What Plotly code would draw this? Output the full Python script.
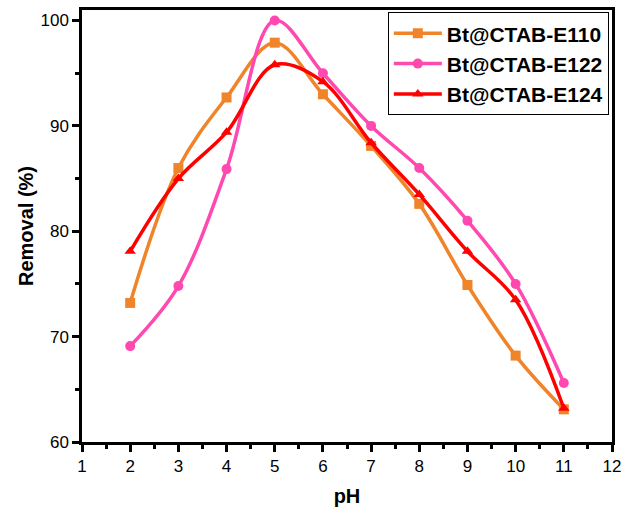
import plotly.graph_objects as go

ph = [2, 3, 4, 5, 6, 7, 8, 9, 10, 11]
e110 = [73.2, 86.0, 92.7, 97.9, 93.0, 88.1, 82.6, 74.9, 68.2, 63.1]
e122 = [69.1, 74.8, 85.9, 100.0, 95.0, 90.0, 86.0, 81.0, 75.0, 65.6]
e124 = [78.1, 85.0, 89.4, 95.8, 94.2, 88.4, 83.5, 78.1, 73.5, 63.2]

names = ["Bt@CTAB-E110", "Bt@CTAB-E122", "Bt@CTAB-E124"]
colors = ["#F0842A", "#FF48B0", "#FF0000"]
symbols = ["square", "circle", "triangle-up"]

fig = go.Figure()
for name, ys, c, s in zip(names, [e110, e122, e124], colors, symbols):
    fig.add_trace(go.Scatter(
        x=ph, y=ys, name=name, mode="lines+markers",
        line=dict(color=c, width=3.5, shape="spline", smoothing=1.0),
        marker=dict(symbol=s, size=10, color=c),
        cliponaxis=False,
    ))

font = "Liberation Sans, Arial, sans-serif"
fig.update_layout(
    width=622, height=509,
    margin=dict(l=82, r=10, t=10, b=67),
    plot_bgcolor="white", paper_bgcolor="white",
    font=dict(family=font, size=17, color="black"),
    showlegend=True,
    legend=dict(
        x=0.994, y=0.995, xanchor="right", yanchor="top",
        bordercolor="black", borderwidth=1, bgcolor="white",
        font=dict(family=font, size=21, color="black", weight="bold"),
        itemwidth=48, tracegroupgap=0,
    ),
)
fig.update_xaxes(
    range=[1, 12], tickmode="linear", tick0=1, dtick=1,
    showgrid=False, zeroline=False, automargin=False,
    showline=True, linecolor="black", linewidth=2.5, mirror=True,
    ticks="outside", ticklen=7, tickwidth=2.5, tickcolor="black",
    minor=dict(ticks="outside", ticklen=4, tickwidth=2.5, dtick=0.5, tickcolor="black"),
    tickfont=dict(size=17),
    title=dict(text="pH", font=dict(size=20, weight="bold"), standoff=14),
)
fig.update_yaxes(
    range=[60, 101], tickmode="array", tickvals=[60, 70, 80, 90, 100],
    showgrid=False, zeroline=False, automargin=False,
    showline=True, linecolor="black", linewidth=2.5, mirror=True,
    ticks="outside", ticklen=7, tickwidth=2.5, tickcolor="black",
    minor=dict(ticks="outside", ticklen=4, tickwidth=2.5, tickvals=[65, 75, 85, 95], tickcolor="black"),
    tickfont=dict(size=17),
    title=dict(text="Removal (%)", font=dict(size=20, weight="bold"), standoff=2),
)
fig.write_html("out.html", config={"displayModeBar": False},
               post_script="document.body.style.margin='0px';")
